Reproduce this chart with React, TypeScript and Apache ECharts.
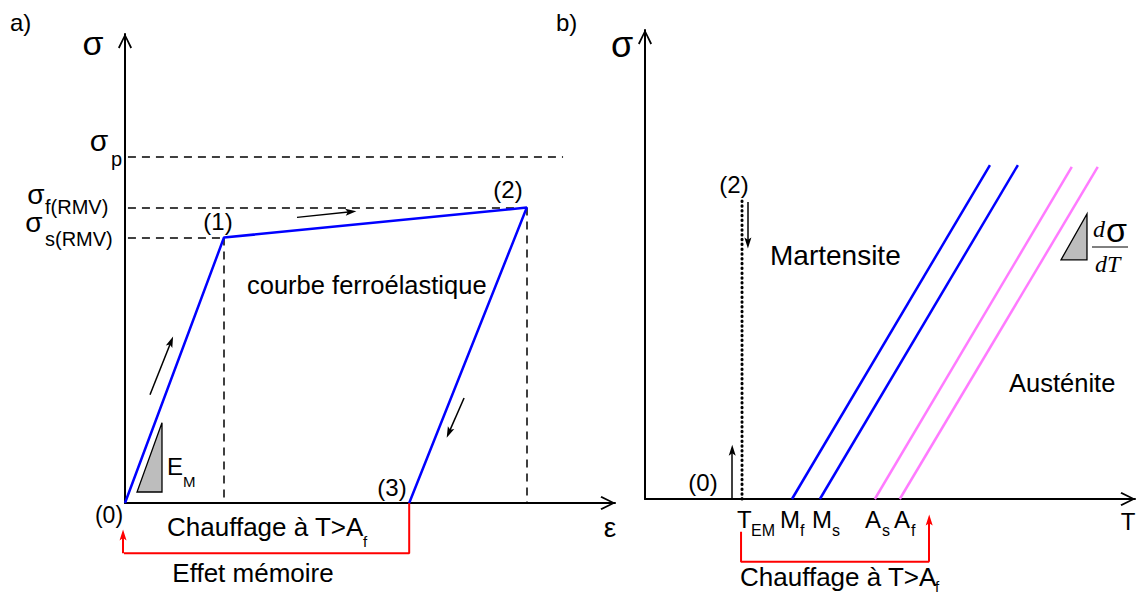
import React, { useEffect, useRef } from "react";
import * as echarts from "echarts";

// ---------- Panel a) : strain / stress (arbitrary units 0..100) ----------
const EPS_1 = 20.2; // point (1)
const EPS_2 = 82.0; // point (2)
const EPS_3 = 58.0; // point (3)
const SIGMA_S = 56.6; // sigma s(RMV)
const SIGMA_F = 63.0; // sigma f(RMV)
const SIGMA_P = 73.9; // sigma p
const SIGMA_P_END = 89.4;

const CURVE_A = [
  [0, 0],
  [EPS_1, SIGMA_S],
  [EPS_2, SIGMA_F],
  [EPS_3, 0],
];
const GUIDES_A = [
  [[0.6, SIGMA_P], [SIGMA_P_END, SIGMA_P]],
  [[0.6, SIGMA_F], [EPS_2, SIGMA_F]],
  [[0.6, SIGMA_S], [EPS_1, SIGMA_S]],
  [[EPS_1, SIGMA_S], [EPS_1, 0]],
  [[EPS_2, SIGMA_F], [EPS_2, 0]],
];
const ARROWS_A = [
  [[5.1, 23.1], [9.4, 34.4]],
  [[35.1, 60.9], [46.1, 62.1]],
  [[69.2, 22.4], [66.1, 15.0]],
];
const RED_PATH_A = [[EPS_3, 0], [EPS_3, -10.7], [-0.4, -10.7]];
const RED_ARROW_A = [[-0.4, -10.7], [-0.4, -6.8]];
const TRIANGLE_A = [[2.45, 2.35], [7.55, 2.35], [7.55, 17.1]];

// ---------- Panel b) : temperature / stress ----------
const T_EM = 19.8;
const BLUE_LINES = [
  [[30.0, 0], [70.4, 71.2]], // Mf
  [[35.7, 0], [76.1, 71.2]], // Ms
];
const PINK_LINES = [
  [[46.9, 0], [87.1, 70.8]], // As
  [[52.0, 0], [92.4, 70.8]], // Af
];
const DOTTED_B = [[T_EM, 0], [T_EM, 63.8]];
const ARROWS_B = [
  [[17.8, 0], [17.8, 10.4]],
  [[21.0, 63.3], [21.0, 54.6]],
];
const RED_PATH_B = [[T_EM - 0.2, -7.0], [T_EM - 0.2, -13.4], [58.0, -13.4]];
const RED_ARROW_B = [[58.0, -13.4], [58.0, -4.5]];
const TRIANGLE_B = [[84.9, 51.0], [90.2, 51.0], [90.2, 60.8]];

const AXIS_ARROW = "path://M7,0 L14,14 L12.4,15 L7,3.6 L1.6,15 L0,14 Z";
const HEAD = "path://M5,0 L10,14 L5,11 L0,14 Z";
const SANS = '"Liberation Sans", Arial, sans-serif';
const SERIF = '"Liberation Serif", "Times New Roman", serif';

function axis(gridIndex: number) {
  return {
    gridIndex,
    type: "value",
    min: 0,
    max: 100,
    axisLine: {
      show: true,
      onZero: false,
      lineStyle: { color: "#000", width: 2 },
      symbol: ["none", AXIS_ARROW],
      symbolSize: [14, 15],
      symbolOffset: [0, -7],
    },
    axisTick: { show: false },
    axisLabel: { show: false },
    splitLine: { show: false },
  };
}

function T(
  text: string,
  x: number,
  y: number,
  size: number,
  align: string = "left",
  extra: any = {}
) {
  return {
    type: "text",
    x,
    y,
    silent: true,
    style: {
      text,
      fontSize: size,
      fontFamily: SANS,
      fill: "#000",
      align,
      verticalAlign: "middle",
      ...extra,
    },
  };
}

function segs(list: number[][][], idx: number, color: string, width: number, type: any = "solid", arrow = false) {
  return {
    type: "lines",
    coordinateSystem: "cartesian2d",
    xAxisIndex: idx,
    yAxisIndex: idx,
    data: list.map((c) => ({ coords: c })),
    symbol: arrow ? ["none", HEAD] : ["none", "none"],
    symbolSize: arrow ? [0, [7, 11]] : 0,
    lineStyle: { color, width, type, opacity: 1, curveness: 0 },
    silent: true,
    clip: false,
    z: 3,
  };
}

function tri(points: number[][], idx: number) {
  return {
    type: "custom",
    xAxisIndex: idx,
    yAxisIndex: idx,
    data: [[0]],
    clip: false,
    silent: true,
    renderItem: (_p: any, api: any) => ({
      type: "polygon",
      shape: { points: points.map((p) => api.coord(p)) },
      style: { fill: "#bdbdbd", stroke: "#000", lineWidth: 1.3 },
    }),
  };
}

export default function App() {
  const ref = useRef<HTMLDivElement>(null);
  useEffect(() => {
    if (!ref.current) return;
    const chart = echarts.init(ref.current, null, { renderer: "svg" });
    const option: any = {
      animation: false,
      backgroundColor: "#fff",
      grid: [
        { left: 125, top: 34, width: 490, height: 469 },
        { left: 645, top: 30, width: 490, height: 469 },
      ],
      xAxis: [axis(0), axis(1)],
      yAxis: [axis(0), axis(1)],
      series: [
        segs(GUIDES_A, 0, "#000", 1.5, [8, 6]),
        {
          type: "line",
          xAxisIndex: 0,
          yAxisIndex: 0,
          data: CURVE_A,
          symbol: "none",
          clip: false,
          silent: true,
          lineStyle: { color: "#0000ff", width: 2.5 },
          z: 4,
        },
        segs(ARROWS_A, 0, "#000", 1.5, "solid", true),
        {
          type: "line",
          xAxisIndex: 0,
          yAxisIndex: 0,
          data: RED_PATH_A,
          symbol: "none",
          clip: false,
          silent: true,
          lineStyle: { color: "#ff0000", width: 2 },
        },
        segs([RED_ARROW_A], 0, "#ff0000", 2, "solid", true),
        tri(TRIANGLE_A, 0),

        segs(BLUE_LINES, 1, "#0000ff", 2.5),
        segs(PINK_LINES, 1, "#ff7bff", 2.5),
        {
          type: "line",
          xAxisIndex: 1,
          yAxisIndex: 1,
          data: DOTTED_B,
          symbol: "none",
          clip: false,
          silent: true,
          lineStyle: { color: "#000", width: 3, type: [0.5, 4.3], cap: "round" },
        },
        segs(ARROWS_B, 1, "#000", 1.5, "solid", true),
        {
          type: "line",
          xAxisIndex: 1,
          yAxisIndex: 1,
          data: RED_PATH_B,
          symbol: "none",
          clip: false,
          silent: true,
          lineStyle: { color: "#ff0000", width: 2 },
        },
        segs([RED_ARROW_B], 1, "#ff0000", 2, "solid", true),
        tri(TRIANGLE_B, 1),
      ],
      graphic: [
        // panel a
        T("a)", 10, 22, 24),
        T("σ", 93, 43, 34, "center"),
        T("σ", 99, 140, 30, "center"),
        T("p", 111, 159, 20),
        T("σ", 36, 194, 28, "center"),
        T("f(RMV)", 45, 207, 20),
        T("σ", 34, 222, 28, "center"),
        T("s(RMV)", 45, 239, 20),
        T("(0)", 109, 515, 23, "center"),
        T("(1)", 218, 221, 24, "center"),
        T("(2)", 508, 189, 24, "center"),
        T("(3)", 392, 487, 24, "center"),
        T("courbe ferroélastique", 247, 285, 25.5),
        T("E", 167, 466, 24),
        T("M", 183, 481, 15),
        T("ε", 610, 527, 28, "center"),
        T("Chauffage à T>A", 167, 527, 26),
        T("f", 363, 541, 15),
        T("Effet mémoire", 253, 573, 26, "center"),
        // panel b
        T("b)", 556, 22, 24),
        T("σ", 622, 44, 36, "center"),
        T("(2)", 734, 184, 24, "center"),
        T("(0)", 703, 482, 24, "center"),
        T("Martensite", 770, 255, 28),
        T("Austénite", 1009, 383, 25.5),
        T("T", 1128, 521, 24, "center"),
        T("T", 737, 519, 24),
        T("EM", 751, 530, 16),
        T("M", 780, 519, 24),
        T("f", 800, 530, 16),
        T("M", 812, 519, 24),
        T("s", 832, 530, 16),
        T("A", 865, 519, 24),
        T("s", 882, 530, 16),
        T("A", 894, 519, 24),
        T("f", 911, 530, 16),
        T("Chauffage à T>A", 740, 577, 26),
        T("f", 935, 586, 15),
        T("d", 1093, 229, 24, "left", { fontFamily: SERIF, fontStyle: "italic" }),
        T("σ", 1106, 230, 34),
        {
          type: "line",
          silent: true,
          shape: { x1: 1092, y1: 247, x2: 1128, y2: 247 },
          style: { stroke: "#000", lineWidth: 1 },
        },
        T("dT", 1095, 264, 24, "left", { fontFamily: SERIF, fontStyle: "italic" }),
      ],
    };
    chart.setOption(option);
    return () => chart.dispose();
  }, []);
  return (
    <div
      ref={ref}
      style={{ position: "fixed", left: 0, top: 0, width: 1143, height: 596, background: "#fff" }}
    />
  );
}
